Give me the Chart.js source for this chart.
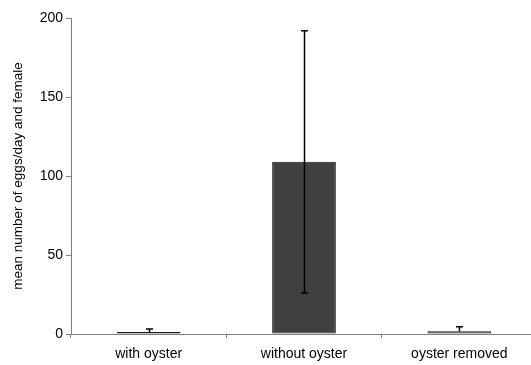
<!DOCTYPE html>
<html>
<head>
<meta charset="utf-8">
<script src="https://cdn.jsdelivr.net/npm/chart.js@4.4.1/dist/chart.umd.min.js"></script>
<style>
    html, body { margin: 0; padding: 0; background: #fff; overflow: hidden; }
</style>
</head>
<body>
<canvas id="eggChart" width="537" height="365"></canvas>
<script>
// Chart data
const treatments = ["with oyster", "without oyster", "oyster removed"];
const meanEggs = [1.3, 109, 1.8];
const errorEggs = [1.9, 83, 2.8];
const barColors = ["#ffffff", "#404040", "#bdbdbd"];
const yTicks = [0, 50, 100, 150, 200];

// Draw error bars using the chart's own scales
const errorBarPlugin = {
    id: 'errorBars',
    afterDatasetsDraw(chart) {
        const ctx = chart.ctx;
        const yScale = chart.scales.y;
        const meta = chart.getDatasetMeta(0);
        ctx.save();
        ctx.strokeStyle = '#000';
        ctx.lineWidth = 1.5;
        meta.data.forEach((bar, i) => {
            const x = Math.round(bar.x) + 0.5;
            const low = meanEggs[i] - errorEggs[i];
            const top = yScale.getPixelForValue(meanEggs[i] + errorEggs[i]);
            const bottom = yScale.getPixelForValue(low);
            const base = yScale.getPixelForValue(meanEggs[i]);
            ctx.beginPath();
            ctx.moveTo(x, top);
            ctx.lineTo(x, low > 0 ? bottom : base);
            ctx.moveTo(x - 3.5, top);
            ctx.lineTo(x + 3.5, top);
            if (low > 0) {
                ctx.moveTo(x - 3.5, bottom);
                ctx.lineTo(x + 3.5, bottom);
            }
            ctx.stroke();
        });
        ctx.restore();
    }
};

new Chart(document.getElementById('eggChart').getContext('2d'), {
    type: 'bar',
    data: {
        labels: treatments,
        datasets: [{
            data: meanEggs,
            backgroundColor: barColors,
            borderColor: '#1a1a1a',
            borderWidth: 1,
            borderSkipped: false,
            categoryPercentage: 1.0,
            barPercentage: 0.41
        }]
    },
    options: {
        responsive: false,
        animation: false,
        layout: { padding: { top: 18, right: 0, left: 0, bottom: 0 } },
        plugins: {
            legend: { display: false },
            tooltip: { enabled: false }
        },
        scales: {
            x: {
                offset: true,
                grid: {
                    offset: true,
                    drawOnChartArea: false,
                    drawTicks: true,
                    tickLength: 4,
                    color: '#808080'
                },
                border: { color: '#808080', width: 1 },
                ticks: {
                    color: '#000',
                    font: { family: 'Liberation Sans, Arial, sans-serif', size: 14 },
                    padding: 8
                },
                afterFit(scale) { scale.height = 31; }
            },
            y: {
                min: 0,
                max: 200,
                afterBuildTicks(scale) { scale.ticks = yTicks.map(v => ({ value: v })); },
                grid: {
                    drawOnChartArea: false,
                    drawTicks: true,
                    tickLength: 5,
                    color: '#808080'
                },
                border: { color: '#808080', width: 1 },
                ticks: {
                    color: '#000',
                    font: { family: 'Liberation Sans, Arial, sans-serif', size: 14 },
                    padding: 3
                },
                title: {
                    display: true,
                    text: 'mean number of eggs/day and female',
                    color: '#000',
                    font: { family: 'Liberation Sans, Arial, sans-serif', size: 13.5 },
                    padding: { top: 10, bottom: 0 }
                },
                afterFit(scale) { scale.width = 71; }
            }
        }
    },
    plugins: [errorBarPlugin]
});
</script>
</body>
</html>
